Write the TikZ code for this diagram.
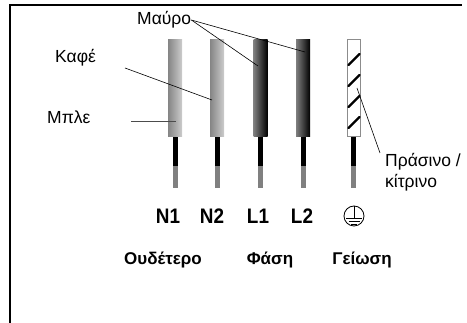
\documentclass[tikz,border=0pt]{standalone}
\usepackage{fontspec}
\setmainfont{Liberation Sans}
\newfontfamily\termfont[FakeStretch=0.9]{Liberation Sans}
\begin{document}
\begin{tikzpicture}[x=1pt,y=-1pt,
  lightwire/.style={draw=none,minimum width=14pt,minimum height=97pt,inner sep=0pt,left color=black!48,right color=black!20},
  darkwire/.style={draw=none,minimum width=14pt,minimum height=97pt,inner sep=0pt,left color=black!50,middle color=black!90,right color=black},
  earthwire/.style={draw=black!45,line width=1pt,fill=white,minimum width=13pt,minimum height=97pt,inner sep=0pt},
  cond/.style={fill=black,draw=none,minimum width=5pt,minimum height=29pt,inner sep=0pt},
  condend/.style={fill=black!50,draw=none,minimum width=5pt,minimum height=22pt,inner sep=0pt},
  term/.style={font=\termfont\fontsize{21}{21}\selectfont\bfseries},
  group/.style={font=\fontsize{17}{17}\selectfont\bfseries},
  lbl/.style={font=\fontsize{17.5}{21}\selectfont,inner sep=0pt,align=left},
  leader/.style={line width=0.6pt},
  stripe/.style={line width=2.4pt,line cap=round}
]
\useasboundingbox (0,0) rectangle (467,323);
% frame
\draw[line width=2pt] (10,324) -- (10,5) -- (462,5);
% wires
\node[lightwire] (w1) at (175,88.5) {};
\node[lightwire] (w2) at (217,88.5) {};
\node[darkwire]  (w3) at (260.5,88.5) {};
\node[darkwire]  (w4) at (303,88.5) {};
\node[earthwire] (w5) at (354,88.5) {};
% stripes on earth wire
\foreach \y in {54,75,96,117}{
  \draw[stripe] ([xshift=1.5pt]w5.west |- 0,\y+11) -- ([xshift=-1.5pt]w5.east |- 0,\y);
}
% conductors
\foreach \i/\x in {1/175,2/217,3/260.5,4/303,5/353.5}{
  \node[cond] (c\i) at (\x,151.5) {};
  \node[condend] (e\i) at (\x,177) {};
}
% terminal labels
\node[term] (n1) at (168,216) {N1};
\node[term] (n2) at (212,216) {N2};
\node[term] (l1) at (258,216) {L1};
\node[term] (l2) at (302,216) {L2};
\node[circle,draw,line width=0.8pt,minimum size=20pt,inner sep=0pt] (pe) at (354,216) {};
\draw[line width=0.8pt] (pe.north) -- (354,218.5);
\draw[line width=0.8pt] (346,218.5) -- (362,218.5);
\draw[line width=0.8pt] (348.5,221.5) -- (359.5,221.5);
\draw[line width=0.8pt] (351,224.5) -- (357,224.5);
% group labels
\node[group] (g1) at (163,260) {Ουδέτερο};
\node[group] (g2) at (270,260) {Φάση};
\node[group] (g3) at (362,260) {Γείωση};
% colour labels
\node[lbl,anchor=west] (mavro) at (137,20) {Μαύρο};
\node[lbl,anchor=west] (kafe) at (55,58) {Καφέ};
\node[lbl,anchor=west] (mple) at (47,117) {Μπλε};
\node[lbl,anchor=west] (pras) at (385,172) {Πράσινο /\\κίτρινο};
% leader lines
\coordinate (m3) at (258,66);
\coordinate (m4) at (305,52);
\coordinate (k2) at (212,100);
\coordinate (b1) at (176,121);
\coordinate (p5) at (357,88);
\coordinate (ks) at (125,68);
\coordinate (bs) at (131,121);
\coordinate (ps) at (380,153);
\draw[leader] (mavro.east) -- (m3);
\draw[leader] (mavro.east) -- (m4);
\draw[leader] (ks) -- (k2);
\draw[leader,draw=black!70] (bs) -- (b1);
\draw[leader] (p5) -- (ps);
\end{tikzpicture}
\end{document}
